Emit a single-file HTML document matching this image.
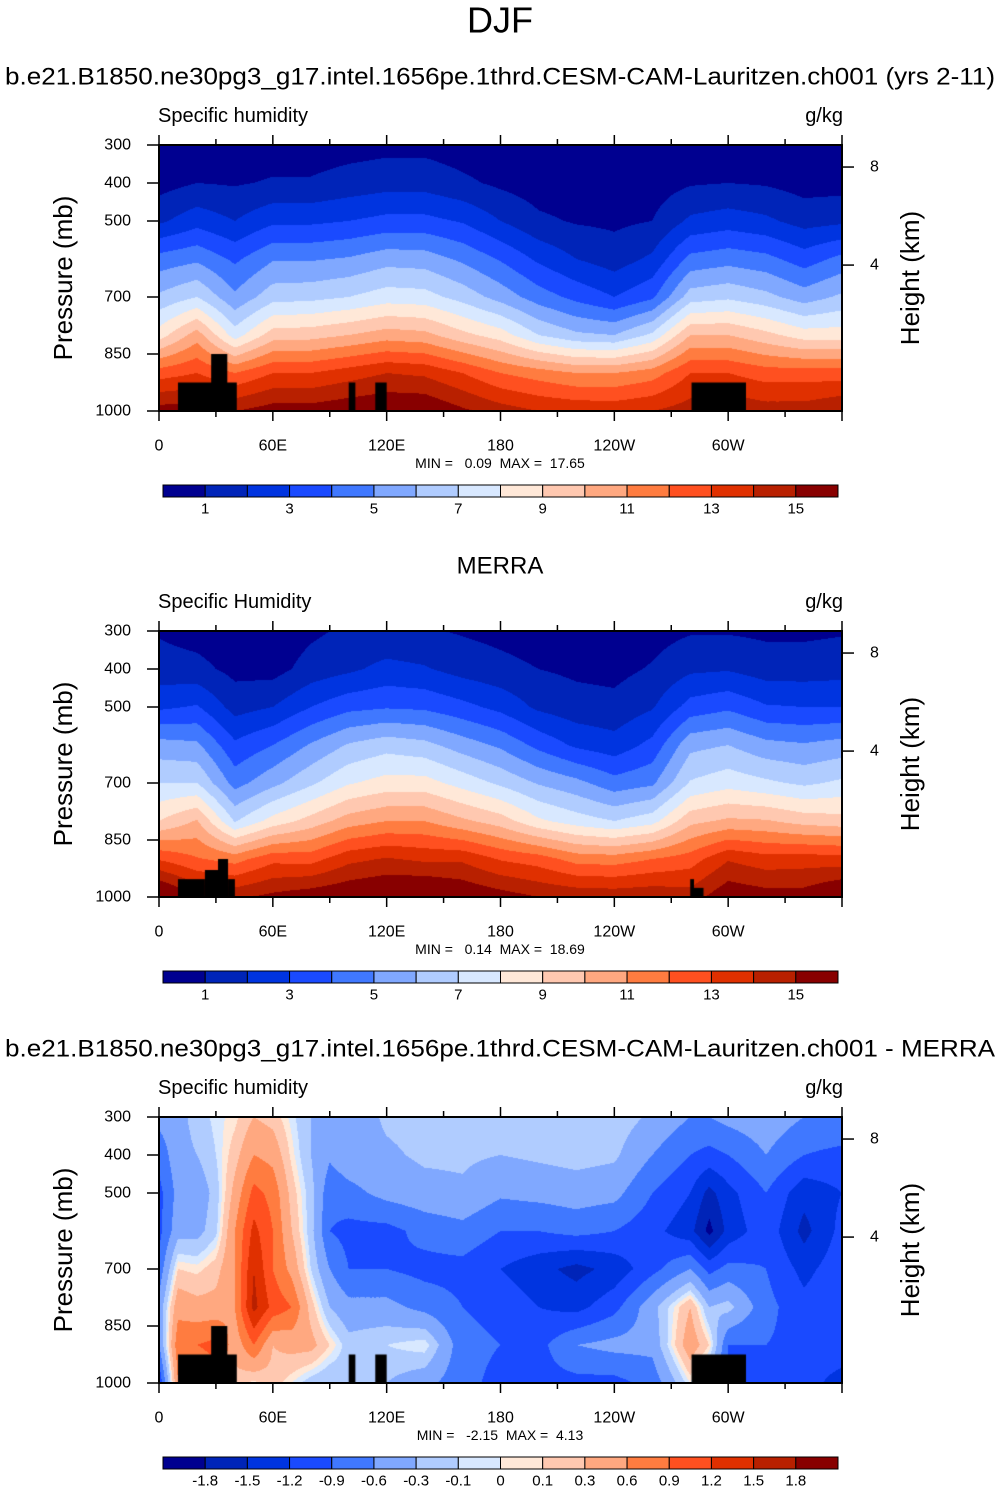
<!DOCTYPE html>
<html><head><meta charset="utf-8"><style>
body{margin:0;background:#fff;}
#wrap{position:relative;width:1001px;height:1492px;overflow:hidden;font-family:"Liberation Sans",sans-serif;}
canvas{position:absolute;}
svg{position:absolute;left:0;top:0;}
</style></head><body>
<div id="wrap">
<canvas id="c1" width="683" height="266" style="left:159px;top:145px"></canvas>
<canvas id="c2" width="683" height="266" style="left:159px;top:631px"></canvas>
<canvas id="c3" width="683" height="266" style="left:159px;top:1117px"></canvas>
<svg id="ov" width="1001" height="1492"></svg>
</div>
<script>
const palette=["#000090","#0024b8","#0034e0","#1a4aff","#4078ff","#80a8ff","#b0ccff","#d8e8ff","#ffe8d8","#ffc8b0","#ffa880","#ff7c40","#ff5020","#e03000","#b82000","#880000"];
const levelsQ=[1,2,3,4,5,6,7,8,9,10,11,12,13,14,15];
const levelsD=[-1.8,-1.5,-1.2,-0.9,-0.6,-0.3,-0.1,0,0.1,0.3,0.6,0.9,1.2,1.5,1.8];
const labelsQ=["","1","","3","","5","","7","","9","","11","","13","","15"];
const labelsD=["-1.8","-1.5","-1.2","-0.9","-0.6","-0.3","-0.1","0","0.1","0.3","0.6","0.9","1.2","1.5","1.8"];
const pressures=[300,400,500,600,700,800,900,1000];
const lonModel=[0,20,40,60,80,100,120,140,160,180,200,220,240,260,280,300,320,340,360];
const qModel=[
[0.3,0.6,1.8,4.4,6.2,8.5,12.5,15.5],[0.4,1.0,2.6,4.8,7.0,10.5,13,15.5],[0.4,0.9,2.0,3.8,5.2,7.5,12,15],
[0.5,1.1,2.8,4.9,6.6,9.5,13,15.5],[0.5,1.1,2.8,4.9,6.7,9.6,13,15.5],[0.6,1.4,3.0,5.1,7.0,10,13.5,15.8],
[0.7,1.6,3.3,5.6,7.5,10.5,14,16],[0.7,1.6,3.3,5.5,7.4,10.3,13.8,16],[0.5,1.2,2.9,4.8,6.6,9.3,13,15.2],
[0.3,0.8,2.0,3.9,5.6,8.5,12,14.5],[0.2,0.5,1.2,2.8,4.5,7.0,11.5,14],[0.2,0.4,0.9,2.0,3.7,6.2,11,13.8],
[0.2,0.4,0.8,1.5,3.0,6.0,11,13.7],[0.2,0.5,1.0,2.2,3.8,7.2,11.5,14],[0.3,0.9,2.2,4.3,6.5,10,13,14.5],
[0.4,1.0,2.5,4.6,6.8,10,13,14.8],[0.4,0.9,2.2,4.3,6.3,9.3,12.5,14.5],[0.2,0.6,1.6,3.5,5.5,8.5,12.5,14.5],
[0.3,0.6,1.8,4.3,6.2,8.5,12.5,15]];
const lonMerra=[0,20,40,60,80,100,120,140,160,180,200,220,240,260,280,300,320,340,360];
const qMerra=[
[0.9,1.4,2.8,5.4,7.0,9.0,12.9,16.7],[0.6,1.3,3.1,5.2,7.0,10.1,12.1,15],[0.35,0.7,1.6,3.2,4.6,6.9,11.6,14.8],
[0.3,0.6,2.0,4.0,5.7,8.4,12.7,15.3],[0.8,1.4,3.0,5.1,6.8,9.4,12.6,15.7],[1.2,1.8,3.7,6.1,7.9,10.5,13.7,16],
[1.2,2.3,3.9,6.6,8.4,11,14.1,16.3],[1.1,2.1,3.8,6.3,8.4,11,13.8,16.5],[0.9,1.6,3.3,5.5,7.6,10.2,13.8,16],
[0.7,1.3,2.7,4.8,6.8,9.5,12.9,15.5],[0.5,1.0,1.8,3.7,5.9,8.2,12.5,15],[0.5,0.8,1.4,2.8,5.3,7.5,11.6,14.8],
[0.35,0.7,1.3,2.4,4.4,7.0,11.5,14.7],[0.6,1.1,1.9,3.3,4.8,7.6,12,14.8],[0.9,1.8,3.4,5.7,7.1,9.7,12.5,14.5],
[0.9,1.9,3.8,6.0,7.6,10.2,13.9,15.8],[0.8,1.5,3.1,5.3,7.2,10.1,13.4,15.5],[0.8,1.5,3.0,5.1,6.8,9.6,13.5,15.5],
[0.9,1.6,3.0,5.4,7.2,9.4,13.4,16.4]];
const lonDiff=[0,10,20,30,40,50,60,70,80,90,100,120,140,160,180,200,220,240,260,280,290,300,320,340,360];
const qDiff=[
[-0.5,-0.8,-1.0,-1.0,-0.8,-0.5,-0.6,-1.2],[-0.4,-0.4,-0.5,-0.4,0.1,0.5,0.8,0.6],[-0.2,-0.3,-0.5,-0.4,0.05,0.4,0.9,0.5],
[-0.05,-0.1,-0.2,-0.15,0.2,0.4,1.0,0.8],[0.05,0.2,0.4,0.6,0.6,0.6,0.4,0.2],[0.3,0.6,1.0,1.3,1.5,1.6,0.9,0.05],
[0.2,0.5,0.8,0.9,0.9,1.1,0.3,0.2],[-0.05,0.05,0.2,0.3,0.5,0.9,0.4,0],[-0.3,-0.3,-0.2,-0.2,-0.1,0.2,0.4,-0.2],
[-0.45,-0.55,-0.8,-0.9,-0.6,-0.3,0.1,-0.3],[-0.5,-0.4,-0.7,-1.0,-0.9,-0.5,-0.2,-0.2],[-0.25,-0.35,-0.5,-1.0,-0.9,-0.5,-0.1,-0.3],
[-0.2,-0.25,-0.4,-0.8,-1.0,-0.7,0.0,-0.5],[-0.2,-0.25,-0.35,-0.7,-1.0,-0.9,-0.8,-0.8],[-0.2,-0.3,-0.55,-0.9,-1.2,-1.0,-0.9,-1.0],
[-0.15,-0.25,-0.5,-0.9,-1.4,-1.2,-1.0,-1.0],[-0.1,-0.2,-0.45,-0.8,-1.6,-1.3,-0.6,-1.0],[-0.15,-0.25,-0.5,-0.9,-1.4,-1.0,-0.5,-1.0],
[-0.35,-0.6,-0.9,-1.1,-1.0,-0.4,-0.5,-0.8],[-0.6,-0.9,-1.2,-1.4,-0.6,0.3,0.5,0],[-0.6,-1.0,-1.6,-1.9,-1.0,-0.3,0.1,-0.5],
[-0.5,-0.9,-1.3,-1.4,-0.8,-0.2,-0.9,-1.0],[-0.4,-0.6,-0.9,-1.0,-0.9,-0.8,-0.9,-1.0],[-0.6,-0.9,-1.4,-1.6,-1.3,-1.1,-1.0,-1.0],
[-0.6,-1.0,-1.2,-1.1,-1.0,-0.9,-0.9,-1.4]];
// topography blocks: [lonStart, lonEnd, topPressure]
const topoModel=[[10,41,925],[27.5,36,850],[100,103.5,925],[114,120,925],[280.7,309.4,925]];
const topoMerra=[[10,24.2,953],[24.2,31.1,929],[31.1,36.4,900],[36.4,40,953],[280,282,953],[282,287,976]];
const xTicks=[0,60,120,180,240,300];
const xTickLabels=["0","60E","120E","180","120W","60W"];
const pTicks=[300,400,500,700,850,1000];
const hTicks=[8,4];
const hTickP=[358,616];
const minmax=[["0.09","17.65"],["0.14","18.69"],["-2.15","4.13"]];

const W=683,H=266,PL=159;
const xOf=lon=>lon/360*W;
const yOfP=p=>(p-300)/700*H;
function interp(lons,grid,lon,p){
  let i=0;while(i<lons.length-2&&lon>lons[i+1])i++;
  const tx=Math.max(0,Math.min(1,(lon-lons[i])/(lons[i+1]-lons[i])));
  let j=Math.min(pressures.length-2,Math.max(0,Math.floor((p-300)/100)));
  const ty=Math.max(0,Math.min(1,(p-pressures[j])/(pressures[j+1]-pressures[j])));
  const a=grid[i][j]*(1-tx)+grid[i+1][j]*tx, b=grid[i][j+1]*(1-tx)+grid[i+1][j+1]*tx;
  return a*(1-ty)+b*ty;
}
function rgb(h){return [parseInt(h.substr(1,2),16),parseInt(h.substr(3,2),16),parseInt(h.substr(5,2),16)];}
const pal=palette.map(rgb);
function draw(id,lons,grid,levels,topo,name){
  const cv=document.getElementById(id);
  
  
  const ctx=cv.getContext('2d');const img=ctx.createImageData(W,H);
  for(let y=0;y<H;y++){const p=300+(y+0.5)/H*700;
    for(let x=0;x<W;x++){const lon=(x+0.5)/W*360;const v=interp(lons,grid,lon,p);
      let k=0;while(k<levels.length&&v>=levels[k])k++;
      const c=pal[k];const o=(y*W+x)*4;img.data[o]=c[0];img.data[o+1]=c[1];img.data[o+2]=c[2];img.data[o+3]=255;}}
  ctx.putImageData(img,0,0);
  ctx.fillStyle="#000";
  topo.forEach(t=>{ctx.fillRect(xOf(t[0]),yOfP(t[2]),xOf(t[1])-xOf(t[0]),H-yOfP(t[2]));});
}
draw('c1',lonModel,qModel,levelsQ,topoModel,'model-contour-field');
draw('c2',lonMerra,qMerra,levelsQ,topoMerra,'merra-contour-field');
draw('c3',lonDiff,qDiff,levelsD,topoModel,'difference-contour-field');

const NS="http://www.w3.org/2000/svg";const svg=document.getElementById('ov');
function el(tag,attrs,text){const e=document.createElementNS(NS,tag);for(const k in attrs)e.setAttribute(k,attrs[k]);if(text!==undefined)e.textContent=text;svg.appendChild(e);return e;}
function txt(x,y,s,size,anchor,name,extra){const e=el('text',Object.assign({x:x,y:y,'font-size':size,'text-anchor':anchor||'middle','dominant-baseline':'central','font-family':'Liberation Sans, sans-serif',fill:'#000'},extra||{}),s);
  
  
  return e;}
txt(500,20,"DJF",36,'middle','main-title');
txt(500,77,"b.e21.B1850.ne30pg3_g17.intel.1656pe.1thrd.CESM-CAM-Lauritzen.ch001 (yrs 2-11)",24,'middle','model-title',{textLength:990,lengthAdjust:'spacingAndGlyphs'});
txt(500,566,"MERRA",24,'middle','merra-title');
txt(500,1049,"b.e21.B1850.ne30pg3_g17.intel.1656pe.1thrd.CESM-CAM-Lauritzen.ch001 - MERRA",24,'middle','difference-title',{textLength:990,lengthAdjust:'spacingAndGlyphs'});
const tops=[145,631,1117];const lnames=["Specific humidity","Specific Humidity","Specific humidity"];
tops.forEach((T,pi)=>{
  txt(158,T-29,lnames[pi],20,'start','left-string');
  txt(843,T-29,"g/kg",20,'end','units-label');
  const fr=el('rect',{x:PL,y:T,width:W,height:H,fill:'none',stroke:'#000','stroke-width':2});
  
  
  for(let lon=0;lon<=360;lon+=30){const x=PL+xOf(lon);const L=(lon%60===0)?10:6;
    el('line',{x1:x,y1:T,x2:x,y2:T-L,stroke:'#000','stroke-width':1.5});
    el('line',{x1:x,y1:T+H,x2:x,y2:T+H+L,stroke:'#000','stroke-width':1.5});}
  xTicks.forEach((lon,i)=>txt(PL+xOf(lon),T+H+35,xTickLabels[i],16,'middle','x-tick-label'));
  pTicks.forEach(p=>{const y=T+yOfP(p);el('line',{x1:PL,y1:y,x2:PL-12,y2:y,stroke:'#000','stroke-width':1.5});
    txt(131,y,String(p),16,'end','y-tick-label');});
  hTicks.forEach((h,i)=>{const y=T+yOfP(hTickP[i]);
    el('line',{x1:PL+W,y1:y,x2:PL+W+12,y2:y,stroke:'#000','stroke-width':1.5});
    txt(870,y,String(h),16,'start','right-tick-label');});
  txt(63,T+133,"Pressure (mb)",26,'middle','y-axis-title',{transform:`rotate(-90 63 ${T+133})`});
  txt(910,T+133,"Height (km)",26,'middle','right-axis-title',{transform:`rotate(-90 910 ${T+133})`});
  txt(500,T+318,`MIN =   ${minmax[pi][0]}  MAX =  ${minmax[pi][1]}`,14,'middle','min-max-label',{'xml:space':'preserve',style:'white-space:pre'});
  const cbT=T+340,bw=(838-163)/16;
  palette.forEach((c,k)=>{const r=el('rect',{x:163+k*bw,y:cbT,width:bw,height:12,fill:c,stroke:'#000','stroke-width':1});
    
    });
  const labs=pi<2?labelsQ:labelsD;
  for(let k=0;k<15;k++){const s=pi<2?labs[k+1]:labs[k];if(s)txt(163+(k+1)*bw,cbT+24,s,15,'middle','colorbar-label');}
});
</script>
</body></html>
